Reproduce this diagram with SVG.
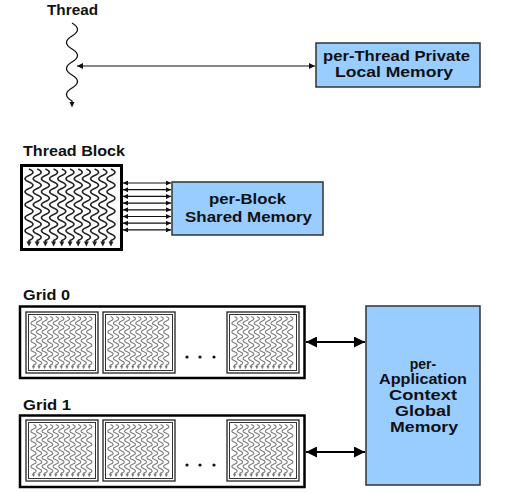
<svg xmlns="http://www.w3.org/2000/svg" xmlns:xlink="http://www.w3.org/1999/xlink" width="508" height="493" viewBox="0 0 508 493">
<style>
  text{font-family:"Liberation Sans",Arial,sans-serif;font-weight:bold;fill:#111}
  .lbl{font-size:14px}
  .bt{font-size:14px}
  .mt{font-size:14px;text-anchor:middle}
  .mem{fill:#99ccff;stroke:#333;stroke-width:1.5}
  .thin{stroke:#111;stroke-width:1.2;fill:none}
  .fat{stroke:#000;stroke-width:2.2;fill:none}
  .blk{fill:#fff;stroke:#222;stroke-width:1.3}
  .blki{fill:none;stroke:#333;stroke-width:1}
</style>
<defs>
  <marker id="sa" viewBox="0 0 6 6" refX="6" refY="3" markerWidth="6" markerHeight="6" markerUnits="userSpaceOnUse" orient="auto-start-reverse">
    <path d="M0,0 L6,3 L0,6 z" fill="#111"/>
  </marker>
  <marker id="xa" viewBox="0 0 5 5" refX="5" refY="2.5" markerWidth="5" markerHeight="5" markerUnits="userSpaceOnUse" orient="auto-start-reverse">
    <path d="M0,0 L5,2.5 L0,5 z" fill="#111"/>
  </marker>
  <marker id="ba" viewBox="0 0 11 11" refX="11" refY="5.5" markerWidth="11" markerHeight="11" markerUnits="userSpaceOnUse" orient="auto-start-reverse">
    <path d="M0,0 L11,5.5 L0,11 z" fill="#000"/>
  </marker>
  <g id="thr">
    <path d="M0,0 q8,3.25 0,6.5 t0,6.5 t0,6.5 t0,6.5 t0,6.5 t0,6.5 t0,6.5 t0,6.5 t0,6.5 t0,6.5 t0,6.5 l0,2" fill="none" stroke="currentColor" stroke-width="1.6"/>
    <path d="M-2.5,72.5 L2.5,72.5 L0,77.5 z" fill="currentColor"/>
  </g>
  <g id="threads">
    <use xlink:href="#thr" x="0"/>
    <use xlink:href="#thr" x="8.2"/>
    <use xlink:href="#thr" x="16.4"/>
    <use xlink:href="#thr" x="24.6"/>
    <use xlink:href="#thr" x="32.8"/>
    <use xlink:href="#thr" x="41"/>
    <use xlink:href="#thr" x="49.2"/>
    <use xlink:href="#thr" x="57.4"/>
    <use xlink:href="#thr" x="65.6"/>
    <use xlink:href="#thr" x="73.8"/>
    <use xlink:href="#thr" x="82"/>
  </g>
  <g id="gblock">
    <rect class="blk" x="0" y="0" width="72" height="61"/>
    <rect class="blki" x="2.5" y="2.5" width="67" height="56"/>
    <use xlink:href="#threads" transform="translate(7.5,4.5) scale(0.68,0.68)" color="#7a7a7a"/>
  </g>
</defs>

<g id="thread">
  <text class="lbl" x="47" y="15" textLength="51" lengthAdjust="spacingAndGlyphs">Thread</text>
  <path d="M72,23 q11,6.5 0,13 t0,13 t0,13 t0,13 t0,13 t0,13 l0,2" fill="none" stroke="#111" stroke-width="1.3"/>
  <path d="M69.5,102 L74.5,102 L72,107.5 z" fill="#111"/>
</g>

<g id="local-memory">
  <rect class="mem" x="316" y="43" width="164" height="44"/>
  <text class="bt" x="323" y="61" textLength="147" lengthAdjust="spacingAndGlyphs">per-Thread Private</text>
  <text class="bt" x="335" y="77" textLength="118" lengthAdjust="spacingAndGlyphs">Local Memory</text>
</g>

<g id="thread-block">
  <text class="lbl" x="23" y="156" textLength="102" lengthAdjust="spacingAndGlyphs">Thread Block</text>
  <rect x="21.5" y="165.5" width="100" height="84" fill="#fff" stroke="#000" stroke-width="3"/>
  <use xlink:href="#threads" x="29" y="169" color="#222"/>
</g>

<g id="shared-memory">
  <rect class="mem" x="172" y="182" width="151" height="53"/>
  <text class="bt" x="209" y="204" textLength="77" lengthAdjust="spacingAndGlyphs">per-Block</text>
  <text class="bt" x="185" y="222" textLength="127" lengthAdjust="spacingAndGlyphs">Shared Memory</text>
</g>

<g id="grid0">
  <text class="lbl" x="23" y="300" textLength="47" lengthAdjust="spacingAndGlyphs">Grid 0</text>
  <rect x="20" y="306.5" width="284.5" height="71.5" fill="#fff" stroke="#000" stroke-width="2.5"/>
  <use xlink:href="#gblock" x="26" y="312"/>
  <use xlink:href="#gblock" x="103" y="312"/>
  <use xlink:href="#gblock" x="227" y="312"/>
  <circle cx="187" cy="357" r="1.6" fill="#111"/>
  <circle cx="200" cy="357" r="1.6" fill="#111"/>
  <circle cx="214" cy="357" r="1.6" fill="#111"/>
</g>

<g id="grid1">
  <text class="lbl" x="23" y="410" textLength="48" lengthAdjust="spacingAndGlyphs">Grid 1</text>
  <rect x="20" y="415.5" width="284.5" height="71.5" fill="#fff" stroke="#000" stroke-width="2.5"/>
  <use xlink:href="#gblock" x="26" y="420"/>
  <use xlink:href="#gblock" x="103" y="420"/>
  <use xlink:href="#gblock" x="227" y="420"/>
  <circle cx="187" cy="465" r="1.6" fill="#111"/>
  <circle cx="200" cy="465" r="1.6" fill="#111"/>
  <circle cx="214" cy="465" r="1.6" fill="#111"/>
</g>

<g id="global-memory">
  <rect class="mem" x="366" y="306" width="114" height="179"/>
  <text class="mt" x="423" y="369">per-</text>
  <text class="mt" x="423" y="384" textLength="88" lengthAdjust="spacingAndGlyphs">Application</text>
  <text class="mt" x="423" y="400" textLength="68" lengthAdjust="spacingAndGlyphs">Context</text>
  <text class="mt" x="423" y="416" textLength="56" lengthAdjust="spacingAndGlyphs">Global</text>
  <text class="mt" x="424" y="432" textLength="68" lengthAdjust="spacingAndGlyphs">Memory</text>
</g>

<g id="connectors">
  <line class="thin" x1="77" y1="66" x2="315" y2="66" marker-start="url(#sa)" marker-end="url(#sa)"/>
  <line class="thin" x1="123" y1="183" x2="171" y2="183" marker-start="url(#xa)" marker-end="url(#xa)"/>
  <line class="thin" x1="123" y1="189.7" x2="171" y2="189.7" marker-start="url(#xa)" marker-end="url(#xa)"/>
  <line class="thin" x1="123" y1="196.4" x2="171" y2="196.4" marker-start="url(#xa)" marker-end="url(#xa)"/>
  <line class="thin" x1="123" y1="203.1" x2="171" y2="203.1" marker-start="url(#xa)" marker-end="url(#xa)"/>
  <line class="thin" x1="123" y1="209.8" x2="171" y2="209.8" marker-start="url(#xa)" marker-end="url(#xa)"/>
  <line class="thin" x1="123" y1="216.5" x2="171" y2="216.5" marker-start="url(#xa)" marker-end="url(#xa)"/>
  <line class="thin" x1="123" y1="223.2" x2="171" y2="223.2" marker-start="url(#xa)" marker-end="url(#xa)"/>
  <line class="thin" x1="123" y1="229.9" x2="171" y2="229.9" marker-start="url(#xa)" marker-end="url(#xa)"/>
  <line class="fat" x1="306" y1="342" x2="365" y2="342" marker-start="url(#ba)" marker-end="url(#ba)"/>
  <line class="fat" x1="306" y1="452" x2="365" y2="452" marker-start="url(#ba)" marker-end="url(#ba)"/>
</g>
</svg>
